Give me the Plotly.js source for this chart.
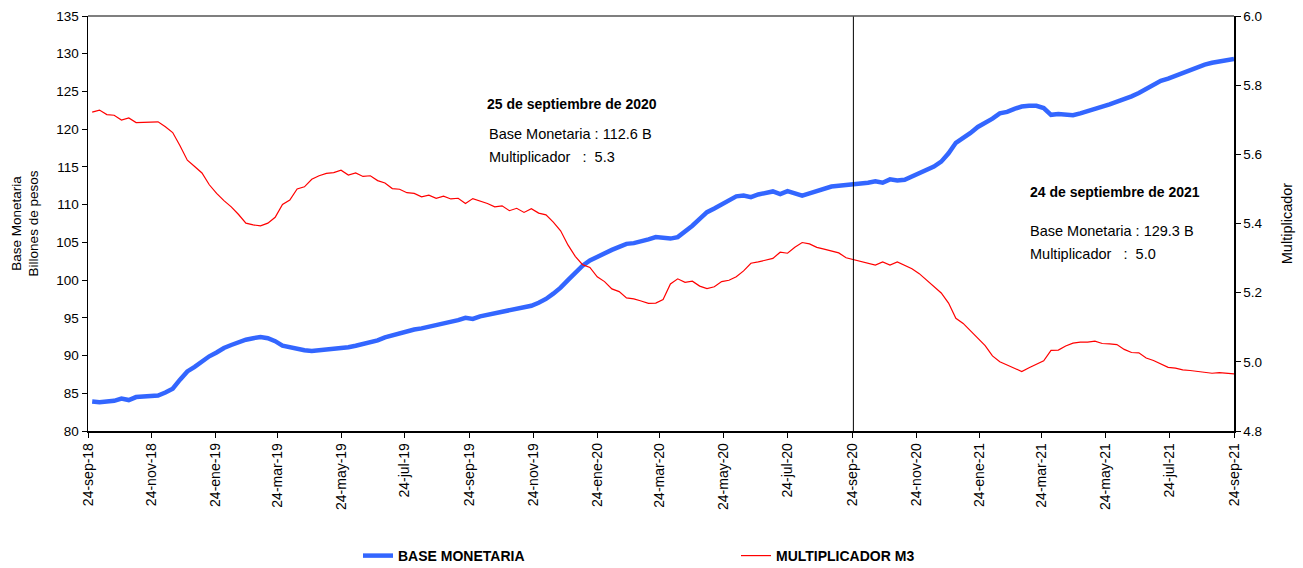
<!DOCTYPE html>
<html>
<head>
<meta charset="utf-8">
<script src="https://cdn.plot.ly/plotly-3.0.1.min.js"></script>
<style>
  html, body { margin: 0; padding: 0; background: #fff; }
  #chart { width: 1303px; height: 568px; }
</style>
</head>
<body>
<div id="chart"></div>
<script>
// Weekly observations (Fridays) from 28-sep-2018 to 24-sep-2021
const startDate = '2018-09-28';
const nWeeks = 157;

const baseMonetaria = [
  83.9, 83.8, 83.9, 84.0, 84.3, 84.1, 84.5, 84.6, 84.6, 84.7,
  85.1, 85.6, 86.8, 87.9, 88.5, 89.2, 89.9, 90.4, 91.0, 91.4,
  91.8, 92.1, 92.3, 92.45, 92.3, 91.9, 91.3, 91.1, 90.8, 90.7,
  90.6, 90.7, 90.8, 90.85, 90.9, 91.1, 91.3, 91.5, 91.8, 92.0,
  92.4, 92.7, 93.0, 93.25, 93.45, 93.6, 93.8, 94.0, 94.25, 94.5,
  94.7, 95.0, 94.85, 95.2, 95.4, 95.7, 95.9, 96.1, 96.3, 96.45,
  96.6, 97.0, 97.5, 98.2, 99.0, 100.0, 101.0, 101.9, 102.6, 103.1,
  103.5, 104.0, 104.4, 104.8, 104.9, 105.1, 105.4, 105.7, 105.6, 105.5,
  105.7, 106.4, 107.2, 108.1, 109.0, 109.5, 110.0, 110.6, 111.1, 111.2,
  111.0, 111.35, 111.6, 111.75, 111.4, 111.8, 111.5, 111.2, 111.5, 111.85,
  112.1, 112.4, 112.5, 112.6, 112.6, 112.7, 112.9, 113.1, 112.9, 113.35,
  113.2, 113.3, 113.7, 114.2, 114.6, 115.05, 115.7, 116.8, 118.2, 118.8,
  119.5, 120.3, 120.8, 121.4, 122.1, 122.3, 122.7, 123.0, 123.1, 123.1,
  122.8, 121.9, 122.0, 121.9, 121.85, 122.1, 122.45, 122.7, 123.0, 123.3,
  123.6, 123.95, 124.35, 124.8, 125.3, 125.85, 126.4, 126.7, 127.1, 127.5,
  127.9, 128.2, 128.55, 128.8, 129.0, 129.15, 129.3
];

const multiplicadorM3 = [
  5.722, 5.728, 5.715, 5.713, 5.699, 5.705, 5.692, 5.692, 5.692, 5.694,
  5.680, 5.663, 5.625, 5.583, 5.565, 5.546, 5.512, 5.487, 5.466, 5.448,
  5.426, 5.401, 5.396, 5.393, 5.401, 5.418, 5.455, 5.468, 5.500, 5.506,
  5.528, 5.538, 5.545, 5.547, 5.554, 5.540, 5.546, 5.536, 5.538, 5.524,
  5.517, 5.501, 5.499, 5.489, 5.487, 5.477, 5.482, 5.473, 5.479, 5.471,
  5.473, 5.458, 5.472, 5.465, 5.458, 5.448, 5.451, 5.437, 5.444, 5.432,
  5.443, 5.430, 5.425, 5.404, 5.379, 5.338, 5.305, 5.281, 5.273, 5.246,
  5.232, 5.211, 5.203, 5.185, 5.182, 5.176, 5.169, 5.170, 5.180, 5.225,
  5.240, 5.230, 5.233, 5.219, 5.212, 5.217, 5.232, 5.236, 5.246, 5.263,
  5.285, 5.289, 5.295, 5.299, 5.317, 5.314, 5.331, 5.345, 5.341, 5.331,
  5.326, 5.320, 5.315, 5.301, 5.296, 5.291, 5.287, 5.280, 5.289, 5.280,
  5.289, 5.280, 5.269, 5.255, 5.237, 5.218, 5.199, 5.170, 5.126, 5.111,
  5.089, 5.066, 5.047, 5.017, 5.000, 4.991, 4.982, 4.972, 4.983, 4.992,
  5.003, 5.033, 5.034, 5.046, 5.054, 5.057, 5.057, 5.060, 5.053, 5.052,
  5.050, 5.036, 5.027, 5.026, 5.011, 5.004, 4.993, 4.984, 4.982, 4.977,
  4.975, 4.972, 4.971, 4.967, 4.969, 4.967, 4.965
];

const tickDates = [
  '2018-09-24', '2018-11-24', '2019-01-24', '2019-03-24', '2019-05-24', '2019-07-24',
  '2019-09-24', '2019-11-24', '2020-01-24', '2020-03-24', '2020-05-24', '2020-07-24',
  '2020-09-24', '2020-11-24', '2021-01-24', '2021-03-24', '2021-05-24', '2021-07-24',
  '2021-09-24'
];
const tickLabels = [
  '24-sep-18', '24-nov-18', '24-ene-19', '24-mar-19', '24-may-19', '24-jul-19',
  '24-sep-19', '24-nov-19', '24-ene-20', '24-mar-20', '24-may-20', '24-jul-20',
  '24-sep-20', '24-nov-20', '24-ene-21', '24-mar-21', '24-may-21', '24-jul-21',
  '24-sep-21'
];

const leftTicks = [80, 85, 90, 95, 100, 105, 110, 115, 120, 125, 130, 135];
const rightTicks = [4.8, 5.0, 5.2, 5.4, 5.6, 5.8, 6.0];

const markerDate = '2020-09-25';

// build weekly dates
const dates = [];
{
  const d0 = new Date(startDate + 'T00:00:00Z');
  for (let i = 0; i < nWeeks; i++) {
    const d = new Date(d0.getTime() + i * 7 * 86400000);
    dates.push(d.toISOString().slice(0, 10));
  }
}

const font = '"Liberation Sans", Arial, sans-serif';

const traces = [
  {
    x: dates, y: baseMonetaria, name: '<b>BASE MONETARIA</b>', type: 'scatter', mode: 'lines',
    line: { color: '#3366FF', width: 4.5 }, yaxis: 'y'
  },
  {
    x: dates, y: multiplicadorM3, name: '<b>MULTIPLICADOR M3</b>', type: 'scatter', mode: 'lines',
    line: { color: '#FF0000', width: 1.2 }, yaxis: 'y2'
  }
];

const layout = {
  width: 1303, height: 568,
  margin: { l: 88, r: 69, t: 16, b: 137, autoexpand: false },
  paper_bgcolor: '#ffffff', plot_bgcolor: '#ffffff',
  showlegend: true,
  legend: {
    orientation: 'h', x: (358 - 88) / 1146, y: (431 - 556) / 415, xanchor: 'left', yanchor: 'middle',
    entrywidth: 333, entrywidthmode: 'pixels',
    font: { family: font, size: 14, color: '#000' },
    tracegroupgap: 0
  },
  xaxis: {
    type: 'date', range: ['2018-09-24', '2021-09-24'],
    tickmode: 'array', tickvals: tickDates, ticktext: tickLabels,
    tickangle: -90, tickfont: { family: font, size: 14, color: '#000' },
    ticks: 'outside', ticklen: 5, tickcolor: '#000', tickwidth: 1,
    showline: true, linecolor: '#000', linewidth: 1.5,
    showgrid: false, zeroline: false
  },
  yaxis: {
    range: [80, 135], tickmode: 'array', tickvals: leftTicks,
    tickfont: { family: font, size: 13.5, color: '#000' },
    ticks: 'outside', ticklen: 5, tickcolor: '#000',
    showline: true, linecolor: '#000', linewidth: 1.5,
    showgrid: false, zeroline: false,
    title: { text: 'Base Monetaria<br>Billones de pesos', font: { family: font, size: 13.5, color: '#000' }, standoff: 14 }
  },
  yaxis2: {
    range: [4.8, 6.0], overlaying: 'y', side: 'right',
    tickmode: 'array', tickvals: rightTicks, tickformat: '.1f',
    tickfont: { family: font, size: 13.5, color: '#000' },
    ticks: 'outside', ticklen: 5, tickcolor: '#000',
    showline: true, linecolor: '#000', linewidth: 1.5,
    showgrid: false, zeroline: false,
    title: { text: 'Multiplicador', font: { family: font, size: 14.5, color: '#000' }, standoff: 20 }
  },
  shapes: [
    { type: 'line', xref: 'x', yref: 'paper', x0: markerDate, x1: markerDate, y0: 0, y1: 1,
      line: { color: '#000', width: 1 } },
    { type: 'line', xref: 'paper', yref: 'paper', x0: 0, x1: 1, y0: 1, y1: 1,
      line: { color: '#555', width: 1.5 } }
  ],
  annotations: [
    { xref: 'paper', yref: 'paper', x: (572 - 88) / 1146, y: (431 - 104) / 415, xanchor: 'center', yanchor: 'middle',
      text: '<b>25 de septiembre de 2020</b>', showarrow: false, font: { family: font, size: 14, color: '#000' } },
    { xref: 'paper', yref: 'paper', x: (487 - 88) / 1146, y: (431 - 134) / 415, xanchor: 'left', yanchor: 'middle',
      text: 'Base Monetaria : 112.6 B', showarrow: false, font: { family: font, size: 14.5, color: '#000' } },
    { xref: 'paper', yref: 'paper', x: (487 - 88) / 1146, y: (431 - 157) / 415, xanchor: 'left', yanchor: 'middle',
      text: 'Multiplicador   :  5.3', showarrow: false, font: { family: font, size: 14.5, color: '#000' } },
    { xref: 'paper', yref: 'paper', x: (1115 - 88) / 1146, y: (431 - 192) / 415, xanchor: 'center', yanchor: 'middle',
      text: '<b>24 de septiembre de 2021</b>', showarrow: false, font: { family: font, size: 14, color: '#000' } },
    { xref: 'paper', yref: 'paper', x: (1028 - 88) / 1146, y: (431 - 231) / 415, xanchor: 'left', yanchor: 'middle',
      text: 'Base Monetaria : 129.3 B', showarrow: false, font: { family: font, size: 14.5, color: '#000' } },
    { xref: 'paper', yref: 'paper', x: (1028 - 88) / 1146, y: (431 - 254) / 415, xanchor: 'left', yanchor: 'middle',
      text: 'Multiplicador   :  5.0', showarrow: false, font: { family: font, size: 14.5, color: '#000' } }
  ]
};

Plotly.newPlot('chart', traces, layout, { displayModeBar: false, staticPlot: true });
</script>
</body>
</html>
